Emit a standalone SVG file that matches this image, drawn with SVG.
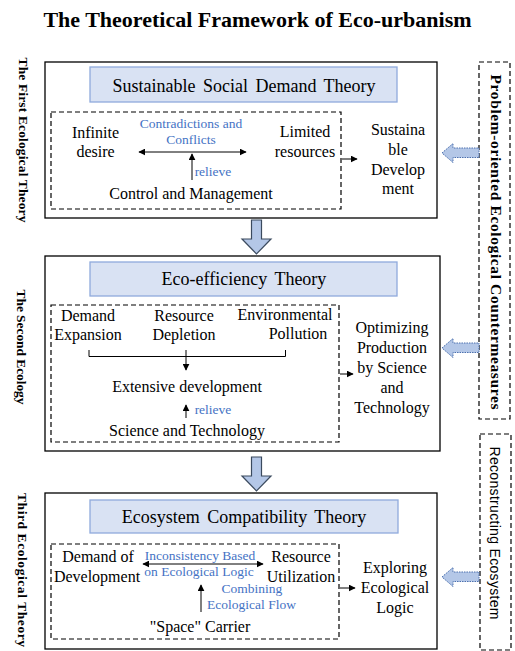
<svg xmlns="http://www.w3.org/2000/svg" width="515" height="651" viewBox="0 0 515 651">
<style>
.t,.h,.b,.lbl,.ttl,.rl{font-family:'Liberation Serif','Times New Roman','DejaVu Serif',serif}
.t{font-size:16px;text-anchor:middle;fill:#000}
.h{font-size:18px;text-anchor:middle;word-spacing:3px;fill:#000}
.b{font-size:13.5px;fill:#4472c4;text-anchor:middle}
.lbl{font-size:13.5px;font-weight:bold;text-anchor:middle;fill:#000}
.ttl{font-size:22px;font-weight:bold;text-anchor:middle;fill:#000}
.rl{font-size:15.5px;font-weight:bold;text-anchor:middle;fill:#000}
.sans{font-family:'Liberation Sans',Arial,sans-serif;font-size:14px;text-anchor:middle;fill:#000}
.outer{fill:#fff;stroke:#000;stroke-width:1.3}
.hbox{fill:#d9e2f3;stroke:#8faadc;stroke-width:1.3}
.dash{fill:none;stroke:#000;stroke-width:1.2;stroke-dasharray:5 3}
.ln{fill:none;stroke:#000;stroke-width:1}
.la{fill:#b4c7e7;stroke:#4a6fae;stroke-width:1;stroke-dasharray:1.5 1}
.da{fill:#b4c7e7;stroke:#3b4a5e;stroke-width:1.2}
</style>
<defs>
<marker id="ah" viewBox="0 0 10 10" refX="9" refY="5" markerWidth="7" markerHeight="7" markerUnits="userSpaceOnUse" orient="auto-start-reverse">
<path d="M0,0 L10,5 L0,10 z" fill="#000"/>
</marker>
</defs>

<text class="ttl" x="257.5" y="27">The Theoretical Framework of Eco-urbanism</text>

<g id="side-labels">
<text class="lbl" transform="translate(18.5,140) rotate(90)" textLength="165" lengthAdjust="spacing">The First Ecological Theory</text>
<text class="lbl" transform="translate(17,347) rotate(90)" textLength="115" lengthAdjust="spacing">The Second Ecology</text>
<text class="lbl" transform="translate(17.5,570) rotate(90)" textLength="154" lengthAdjust="spacing">Third Ecological Theory</text>
</g>

<g id="first-theory">
<rect class="outer" x="45" y="62" width="392" height="156"/>
<rect class="hbox" x="90" y="67" width="307" height="35"/>
<text class="h" x="244" y="92">Sustainable Social Demand Theory</text>
<rect class="dash" x="51" y="112" width="290" height="97"/>
<text class="t" x="95.5" y="138">Infinite</text>
<text class="t" x="95.5" y="157">desire</text>
<text class="b" x="191" y="128">Contradictions and</text>
<text class="b" x="191" y="144">Conflicts</text>
<text class="t" x="305" y="137">Limited</text>
<text class="t" x="305" y="157">resources</text>
<text class="b" x="213" y="176">relieve</text>
<text class="t" x="191" y="199">Control and Management</text>
<text class="t" x="398" y="135">Sustaina</text>
<text class="t" x="398" y="155">ble</text>
<text class="t" x="398" y="175">Develop</text>
<text class="t" x="398" y="194">ment</text>
</g>

<g id="second-theory">
<rect class="outer" x="45" y="256" width="395" height="195"/>
<rect class="hbox" x="90" y="262" width="307" height="34"/>
<text class="h" x="244" y="285">Eco-efficiency Theory</text>
<rect class="dash" x="51" y="305" width="288" height="137"/>
<text class="t" x="88" y="321">Demand</text>
<text class="t" x="88" y="340">Expansion</text>
<text class="t" x="184" y="321">Resource</text>
<text class="t" x="184" y="340">Depletion</text>
<text class="t" x="285" y="320">Environmental</text>
<text class="t" x="298" y="339">Pollution</text>
<text class="t" x="187" y="392">Extensive development</text>
<text class="b" x="213" y="414">relieve</text>
<text class="t" x="187" y="436">Science and Technology</text>
<text class="t" x="392" y="333">Optimizing</text>
<text class="t" x="392" y="353">Production</text>
<text class="t" x="392" y="373">by Science</text>
<text class="t" x="392" y="393">and</text>
<text class="t" x="392" y="413">Technology</text>
</g>

<g id="third-theory">
<rect class="outer" x="45" y="493" width="392" height="156"/>
<rect class="hbox" x="90" y="500" width="308" height="33"/>
<text class="h" x="244" y="523">Ecosystem Compatibility Theory</text>
<rect class="dash" x="51" y="544" width="288" height="95"/>
<text class="t" x="98" y="562">Demand of</text>
<text class="t" x="97" y="582">Development</text>
<text class="b" x="200" y="560">Inconsistency  Based</text>
<text class="b" x="199" y="576">on Ecological Logic</text>
<text class="t" x="301" y="562">Resource</text>
<text class="t" x="301" y="582">Utilization</text>
<text class="b" x="252" y="593">Combining</text>
<text class="b" x="251.5" y="609">Ecological Flow</text>
<text class="t" x="200" y="632">"Space" Carrier</text>
<text class="t" x="395" y="573">Exploring</text>
<text class="t" x="395" y="593">Ecological</text>
<text class="t" x="395" y="613">Logic</text>
</g>

<g id="countermeasures">
<rect class="dash" x="479" y="62" width="31" height="357"/>
<text class="rl" transform="translate(490.5,242) rotate(90)" textLength="335" lengthAdjust="spacing">Problem-oriented Ecological Countermeasures</text>
</g>

<g id="reconstructing">
<rect class="dash" x="480" y="434" width="31" height="216"/>
<text class="sans" transform="translate(490,533) rotate(90)" textLength="173" lengthAdjust="spacing">Reconstructing Ecosystem</text>
</g>

<g id="connectors">
<line class="ln" x1="139" y1="152" x2="246" y2="152" marker-start="url(#ah)" marker-end="url(#ah)"/>
<line class="ln" x1="192" y1="180" x2="192" y2="154" marker-end="url(#ah)"/>
<line class="ln" x1="342" y1="159" x2="357" y2="159" marker-end="url(#ah)"/>
<polyline class="ln" points="89,350 89,356.5 285.5,356.5 285.5,350"/>
<line class="ln" x1="186" y1="350" x2="186" y2="370" marker-end="url(#ah)"/>
<line class="ln" x1="186" y1="418" x2="186" y2="405" marker-end="url(#ah)"/>
<line class="ln" x1="340" y1="374" x2="353" y2="374" marker-end="url(#ah)"/>
<line class="ln" x1="143" y1="564" x2="263" y2="564" marker-start="url(#ah)" marker-end="url(#ah)"/>
<line class="ln" x1="201" y1="612" x2="201" y2="585" marker-end="url(#ah)"/>
<line class="ln" x1="340" y1="588" x2="355" y2="588" marker-end="url(#ah)"/>
<polygon class="da" points="251.5,220 261.5,220 261.5,239 271,239 256.5,254 242,239 251.5,239"/>
<polygon class="da" points="251.5,457 261.5,457 261.5,476 271,476 256.5,491 242,476 251.5,476"/>
<polygon class="la" points="442,153 453,143.5 453,148 479,148 479,157.5 453,157.5 453,162.5"/>
<polygon class="la" points="442,348 453,338.5 453,343 479,343 479,352.5 453,352.5 453,357.5"/>
<polygon class="la" points="442,577 453,567.5 453,572 479,572 479,581.5 453,581.5 453,586.5"/>
</g>
</svg>
